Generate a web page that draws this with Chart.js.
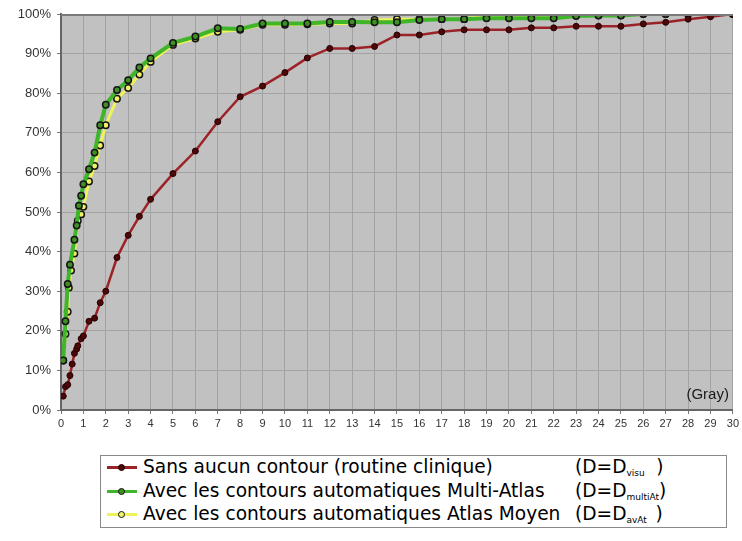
<!DOCTYPE html>
<html>
<head>
<meta charset="utf-8">
<script src="https://cdn.jsdelivr.net/npm/chart.js@4/dist/chart.umd.min.js"></script>
<style>
  html, body { margin: 0; padding: 0; background: #ffffff; }
  #wrap { position: relative; width: 742px; height: 541px; overflow: hidden; }
  #chartBox { position: absolute; left: 0; top: 0; width: 742px; height: 440px; }
  #legend {
    position: absolute; left: 100px; top: 455px; width: 627px; height: 73px;
    border: 1px solid #8a8a8a; background: #fff; box-sizing: border-box;
    font-family: "DejaVu Sans", sans-serif; font-size: 18.6px; color: #000;
  }
  .row { position: absolute; left: 0; height: 24px; width: 100%; line-height: 24px; white-space: nowrap; }
  .mk { position: absolute; left: 6px; top: 11px; width: 30px; height: 3px; }
  .dot { position: absolute; width: 7px; height: 7px; border-radius: 50%; box-sizing: border-box; }
  .txt { position: absolute; left: 42px; top: 0; }
  .eq { position: absolute; left: 474px; top: 0; }
  sub { font-size: 9px; vertical-align: -3px; line-height: 0; }
</style>
</head>
<body>
<div id="wrap">
  <div id="chartBox"><canvas id="c" width="742" height="440"></canvas></div>
  <div id="legend"></div>
</div>
<script>
// ---------- data ----------
const seriesNames = [
  "Sans aucun contour (routine clinique)",
  "Avec les contours automatiques Multi-Atlas",
  "Avec les contours automatiques Atlas Moyen"
];
const seriesEq = ["visu", "multiAt", "avAt"];
const seriesEqPad = ["\u00a0\u00a0\u00a0\u00a0", "", "\u00a0\u00a0\u00a0"];

const sansX = [0.1,0.2,0.3,0.4,0.5,0.6,0.7,0.75,0.9,1,1.25,1.5,1.75,2,2.5,3,3.5,4,5,6,7,8,9,10,11,12,13,14,15,16,17,18,19,20,21,22,23,24,25,26,27,28,29,30];
const sansY = [3.5,5.9,6.4,8.7,11.6,14.3,15.4,16.2,18,18.7,22.4,23.2,27.1,30,38.5,44.1,48.9,53.2,59.7,65.4,72.8,79.1,81.8,85.2,88.9,91.3,91.3,91.8,94.7,94.7,95.5,96,96,96,96.5,96.5,96.9,96.9,96.9,97.5,97.9,98.7,99.3,100];

const multiX = [0.1,0.2,0.3,0.4,0.6,0.7,0.8,0.9,1,1.25,1.5,1.75,2,2.5,3,3.5,4,5,6,7,8,9,10,11,12,13,14,15,16,17,18,19,20,21,22,23,24,25,26,27,28,29,30];
const multiY = [12.5,22.4,31.8,36.7,43,46.6,51.6,54.1,57,60.8,65,71.9,77.1,80.8,83.3,86.5,88.8,92.7,94.3,96.4,96.2,97.6,97.6,97.6,98,98,97.9,97.9,98.5,98.7,98.7,98.9,98.9,98.9,98.9,99.5,99.6,99.6,100,100,100,100,100];

const moyenX = [0.1,0.2,0.3,0.35,0.45,0.6,0.75,0.9,1,1.25,1.5,1.75,2,2.5,3,3.5,4,5,6,7,8,9,10,11,12,13,14,15,16,17,18,19,20,21,22,23,24,25,26,27,28,29,30];
const moyenY = [12.5,19.2,24.8,30.9,35.2,39.5,47.8,49.4,51.3,57.7,61.6,66.8,71.9,78.6,81.3,84.7,87.9,92.2,93.8,95.5,96,97.3,97.3,97.4,97.6,97.6,98.5,98.7,98.7,98.7,98.7,99.6,99.6,99.6,99.6,99.7,99.7,99.7,100,100,100,100,100];

const yTicks = [0,10,20,30,40,50,60,70,80,90,100];
const xMin = 0, xMax = 30;
const unitLabel = "(Gray)";

// ---------- styles ----------
const colors = [
  { line: "#9b2328", fill: "#4a0808", border: "#2a0000" },
  { line: "#3fb52a", fill: "#3f8f25", border: "#151515" },
  { line: "#eef35a", fill: "#f2f26a", border: "#151515" }
];

function pts(xs, ys) { return xs.map((x, i) => ({ x: x, y: ys[i] })); }

const plotDeco = {
  id: "plotDeco",
  beforeDraw(chart) {
    const { ctx, chartArea: a } = chart;
    ctx.save();
    ctx.fillStyle = "#c1c1c1";
    ctx.fillRect(a.left, a.top, a.right - a.left, a.bottom - a.top);
    ctx.restore();
  },
  afterDraw(chart) {
    const { ctx, chartArea: a } = chart;
    ctx.save();
    ctx.strokeStyle = "#7a7a7a";
    ctx.lineWidth = 2;
    ctx.beginPath();
    ctx.moveTo(a.left, a.top + 1);
    ctx.lineTo(a.right, a.top + 1);
    ctx.stroke();
    ctx.font = "15px 'Liberation Sans', Arial, sans-serif";
    ctx.fillStyle = "#1a1a1a";
    ctx.textAlign = "right";
    ctx.textBaseline = "alphabetic";
    ctx.fillText(unitLabel, a.right - 4, a.bottom - 11);
    ctx.restore();
  }
};

const ctx = document.getElementById("c").getContext("2d");
new Chart(ctx, {
  type: "line",
  data: {
    datasets: [
      { label: seriesNames[0], data: pts(sansX, sansY), borderColor: colors[0].line, borderWidth: 2.5,
        pointRadius: 3, pointBackgroundColor: colors[0].fill, pointBorderColor: colors[0].border, pointBorderWidth: 1, tension: 0 },
      { label: seriesNames[1], data: pts(multiX, multiY), borderColor: colors[1].line, borderWidth: 4,
        pointRadius: 3.2, pointBackgroundColor: colors[1].fill, pointBorderColor: colors[1].border, pointBorderWidth: 1.5, tension: 0 },
      { label: seriesNames[2], data: pts(moyenX, moyenY), borderColor: colors[2].line, borderWidth: 3,
        pointRadius: 3.2, pointBackgroundColor: colors[2].fill, pointBorderColor: colors[2].border, pointBorderWidth: 1.5, tension: 0 }
    ]
  },
  options: {
    responsive: false,
    animation: false,
    layout: { padding: { top: 14, right: 5, left: 0, bottom: 0 } },
    plugins: { legend: { display: false }, tooltip: { enabled: false } },
    scales: {
      x: {
        type: "linear", min: xMin, max: xMax,
        afterFit(s) { s.height = 30; },
        ticks: { stepSize: 1, color: "#333", font: { family: "'Liberation Sans', Arial, sans-serif", size: 11 }, padding: 3, maxRotation: 0, autoSkip: false },
        grid: { color: "#a3a3a3", lineWidth: 1, tickLength: 4, tickColor: "#777" },
        border: { display: true, color: "#666", width: 2 }
      },
      y: {
        type: "linear", min: 0, max: 100,
        afterFit(s) { s.width = 61; },
        afterBuildTicks(s) { s.ticks = yTicks.map(v => ({ value: v })); },
        ticks: { color: "#333", font: { family: "'Liberation Sans', Arial, sans-serif", size: 13 }, padding: 6,
          callback: v => v + "%" },
        grid: { color: "#a3a3a3", lineWidth: 1, tickLength: 4, tickColor: "#777" },
        border: { display: true, color: "#666", width: 2 }
      }
    }
  },
  plugins: [plotDeco]
});

// ---------- legend ----------
const lg = document.getElementById("legend");
seriesNames.forEach((name, i) => {
  const row = document.createElement("div");
  row.className = "row";
  row.style.top = (i * 23.5 - 1) + "px";
  const mk = document.createElement("div");
  mk.className = "mk"; mk.style.background = colors[i].line;
  const dot = document.createElement("div");
  dot.className = "dot";
  dot.style.background = colors[i].fill;
  dot.style.border = "1.5px solid " + colors[i].border;
  dot.style.top = "-2px"; dot.style.left = "11px";
  mk.appendChild(dot);
  const t = document.createElement("span");
  t.className = "txt"; t.textContent = name;
  const eq = document.createElement("span");
  eq.className = "eq";
  eq.append("(D=D");
  const sb = document.createElement("sub");
  sb.textContent = seriesEq[i] + seriesEqPad[i];
  eq.appendChild(sb);
  eq.append(")");
  row.appendChild(mk); row.appendChild(t); row.appendChild(eq);
  lg.appendChild(row);
});
</script>
</body>
</html>
